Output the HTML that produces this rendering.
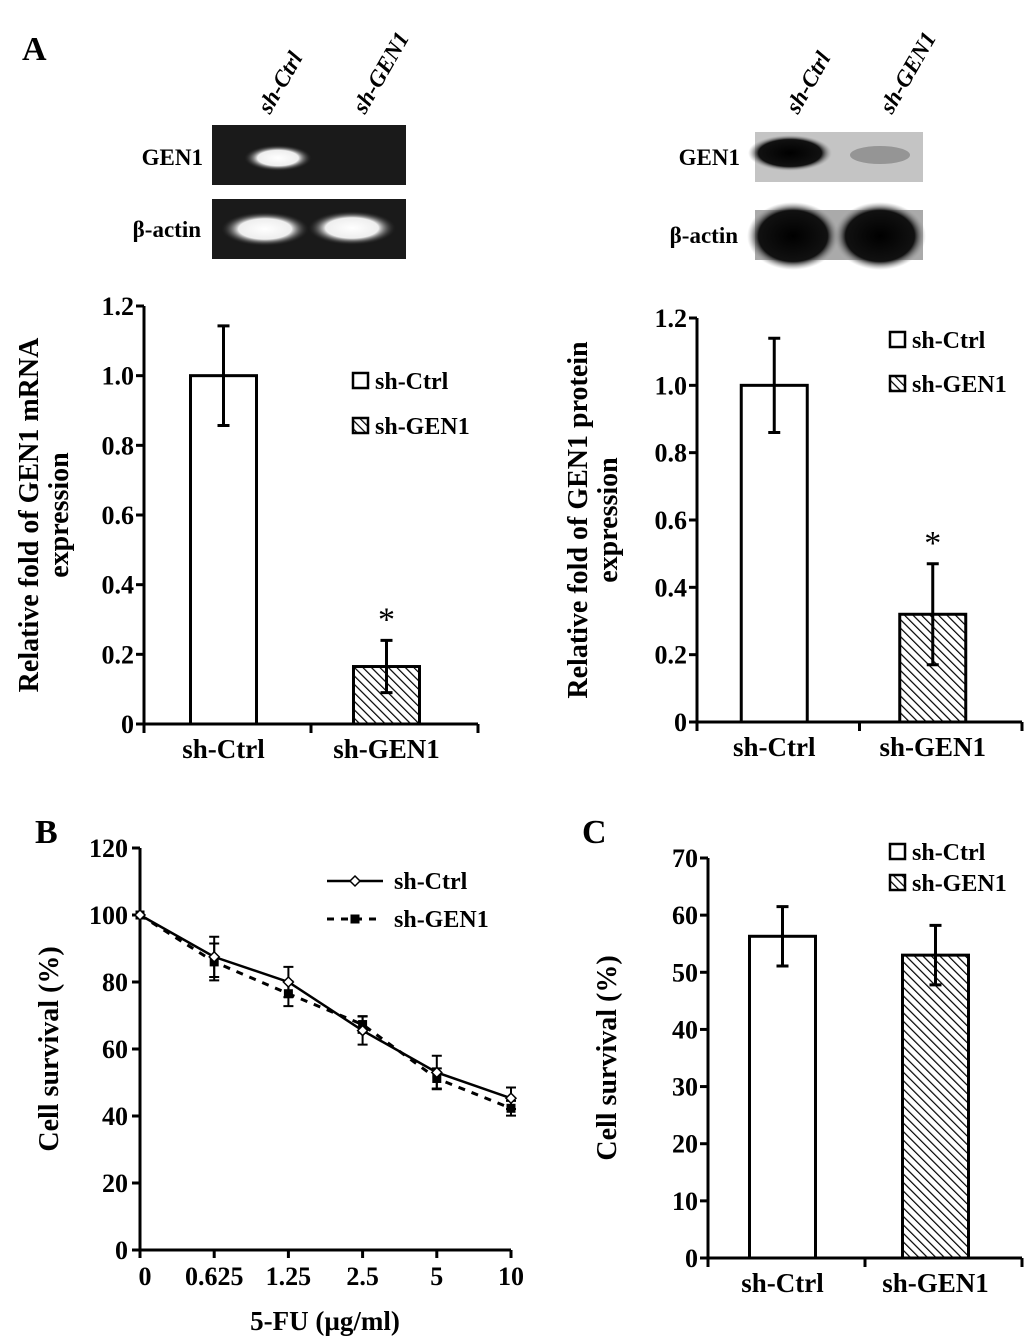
<!DOCTYPE html>
<html><head><meta charset="utf-8"><style>
body{margin:0;background:#fff}
svg{display:block;font-family:"Liberation Serif",serif;font-weight:bold}
</style></head><body>
<svg id="fig" width="1033" height="1341" viewBox="0 0 1033 1341">
<defs>
<pattern id="hatch" width="6" height="6" patternUnits="userSpaceOnUse" patternTransform="rotate(-45)">
<rect width="6" height="6" fill="#fff"/><line x1="0" y1="0" x2="0" y2="6" stroke="#000" stroke-width="2.4"/></pattern>
<radialGradient id="glow" cx="50%" cy="50%" r="50%"><stop offset="0" stop-color="#fff"/><stop offset="0.6" stop-color="#eee"/><stop offset="1" stop-color="#222" stop-opacity="0"/></radialGradient>
<radialGradient id="dark" cx="50%" cy="50%" r="50%"><stop offset="0" stop-color="#000"/><stop offset="0.75" stop-color="#111"/><stop offset="1" stop-color="#999" stop-opacity="0"/></radialGradient>
</defs>
<text x="22" y="60" font-size="34">A</text>
<text x="35" y="843" font-size="34">B</text>
<text x="582" y="843" font-size="34">C</text>
<g>
<text transform="translate(270,115) rotate(-60)" font-size="23" font-style="italic">sh-Ctrl</text>
<text transform="translate(365,115) rotate(-60)" font-size="23" font-style="italic">sh-GEN1</text>
<text x="203" y="165" font-size="23" text-anchor="end">GEN1</text>
<text x="201" y="237" font-size="23" text-anchor="end">β-actin</text>
<rect x="212" y="125" width="194" height="60" fill="#1a1a1a"/>
<ellipse cx="278" cy="158" rx="34" ry="13" fill="url(#glow)"/>
<rect x="212" y="199" width="194" height="60" fill="#1a1a1a"/>
<ellipse cx="265" cy="229" rx="44" ry="17" fill="url(#glow)"/>
<ellipse cx="352" cy="228" rx="44" ry="17" fill="url(#glow)"/>
</g>
<g>
<text transform="translate(798,115) rotate(-60)" font-size="23" font-style="italic">sh-Ctrl</text>
<text transform="translate(892,115) rotate(-60)" font-size="23" font-style="italic">sh-GEN1</text>
<text x="740" y="165" font-size="23" text-anchor="end">GEN1</text>
<text x="738" y="243" font-size="23" text-anchor="end">β-actin</text>
<rect x="755" y="132" width="168" height="50" fill="#c4c4c4"/>
<ellipse cx="790" cy="153" rx="42" ry="18" fill="url(#dark)"/>
<ellipse cx="880" cy="155" rx="30" ry="9" fill="#666" opacity="0.5"/>
<rect x="755" y="210" width="168" height="50" fill="#aaa"/>
<ellipse cx="793" cy="236" rx="46" ry="34" fill="url(#dark)"/>
<ellipse cx="880" cy="236" rx="46" ry="34" fill="url(#dark)"/>
</g>
<g id="chartA1"></g>
<g id="chartA2"></g>
<g id="chartB"></g>
<g id="chartC"></g>
</svg>
<script>
const barCategories = ["sh-Ctrl", "sh-GEN1"];
const mrnaValues = [1.0, 0.165];
const mrnaErrors = [0.143, 0.075];
const proteinValues = [1.0, 0.32];
const proteinErrors = [0.14, 0.15];
const survivalBarValues = [56.3, 53.0];
const survivalBarErrors = [5.2, 5.2];
const ticksA = [0, 0.2, 0.4, 0.6, 0.8, 1.0, 1.2];
const tickLabelsA = ["0", "0.2", "0.4", "0.6", "0.8", "1.0", "1.2"];
const ticksC = [0, 10, 20, 30, 40, 50, 60, 70];
const doseLabels = ["0", "0.625", "1.25", "2.5", "5", "10"];
const ctrlSurvival = [100, 87.5, 80, 65.5, 53, 45.3];
const ctrlErr = [0, 6, 4.5, 4.2, 5, 3.2];
const gen1Survival = [100, 86, 76.5, 67.3, 51.2, 42.3];
const gen1Err = [0, 5.5, 3.7, 2.5, 3, 2.2];
const ticksB = [0, 20, 40, 60, 80, 100, 120];

const NS = "http://www.w3.org/2000/svg";
function mk(parent, tag, attrs, text) {
  const e = document.createElementNS(NS, tag);
  for (const k in attrs) e.setAttribute(k, attrs[k]);
  if (text !== undefined) e.textContent = text;
  parent.appendChild(e);
  return e;
}

function barChart(g, o) {
  const y = v => o.y0 - (v - o.min) / (o.max - o.min) * (o.y0 - o.yTop);
  const ax = mk(g, "path", {d: `M${o.ax},${o.yTop} V${o.y0} H${o.xEnd}`, stroke: "#000", "stroke-width": 3, fill: "none"});
  
  
  o.ticks.forEach((t, i) => {
    mk(g, "line", {x1: o.ax - 8, x2: o.ax, y1: y(t), y2: y(t), stroke: "#000", "stroke-width": 3});
    const tl = mk(g, "text", {x: o.ax - 10, y: y(t) + 9, "font-size": 26, "text-anchor": "end"}, o.tickLabels[i]);
    
    
  });
  const mid = (o.ax + o.xEnd) / 2;
  [o.ax, mid, o.xEnd].forEach(x => mk(g, "line", {x1: x, x2: x, y1: o.y0, y2: o.y0 + 9, stroke: "#000", "stroke-width": 3}));
  const slot = (o.xEnd - o.ax) / o.values.length;
  o.values.forEach((v, i) => {
    const cx = o.ax + slot * (i + 0.5) + (i === 0 ? -4 : -8);
    const b = mk(g, "rect", {x: cx - o.bw / 2, y: y(v), width: o.bw, height: o.y0 - y(v), fill: i ? "url(#hatch)" : "#fff", stroke: "#000", "stroke-width": 3});
    
    
    const e = o.errs[i];
    mk(g, "path", {d: `M${cx},${y(v - e)} V${y(v + e)} M${cx - 6},${y(v + e)} h12 M${cx - 6},${y(v - e)} h12`, stroke: "#000", "stroke-width": 3, fill: "none"});
    const cl = mk(g, "text", {x: cx, y: o.y0 + 34, "font-size": 27, "text-anchor": "middle"}, o.cats[i]);
    
    
    if (o.star && i === 1) {
      const s = mk(g, "text", {x: cx, y: y(v + e) - 10, "font-size": 34, "font-weight": "normal", "text-anchor": "middle"}, "*");
      
      
    }
  });
  o.cats.forEach((c, i) => {
    const ly = o.legY + i * o.legGap;
    mk(g, "rect", {x: o.legX, y: ly - 16, width: 15, height: 15, fill: i ? "url(#hatch)" : "#fff", stroke: "#000", "stroke-width": 2.5});
    const lt = mk(g, "text", {x: o.legX + 22, y: ly, "font-size": 24}, c);
    
    
  });
  o.title.forEach((l, i) => {
    const t = mk(g, "text", {transform: `translate(${o.titleX + i * 30},${(o.yTop + o.y0) / 2}) rotate(-90)`, "font-size": 28, "text-anchor": "middle"}, l);
    
    
  });
}

barChart(document.getElementById("chartA1"), {ax: 144, y0: 724, yTop: 306, xEnd: 478, min: 0, max: 1.2, ticks: ticksA, tickLabels: tickLabelsA,
  values: mrnaValues, errs: mrnaErrors, cats: barCategories, bw: 66, star: true, legX: 353, legY: 389, legGap: 45,
  title: ["Relative fold of GEN1 mRNA", "expression"], titleX: 38});
barChart(document.getElementById("chartA2"), {ax: 697, y0: 722, yTop: 318, xEnd: 1022, min: 0, max: 1.2, ticks: ticksA, tickLabels: tickLabelsA,
  values: proteinValues, errs: proteinErrors, cats: barCategories, bw: 66, star: true, legX: 890, legY: 348, legGap: 44,
  title: ["Relative fold of GEN1 protein", "expression"], titleX: 587});
barChart(document.getElementById("chartC"), {ax: 708, y0: 1258, yTop: 858, xEnd: 1022, min: 0, max: 70, ticks: ticksC, tickLabels: ticksC.map(String),
  values: survivalBarValues, errs: survivalBarErrors, cats: barCategories, bw: 66, star: false, legX: 890, legY: 860, legGap: 31,
  title: ["Cell survival (%)"], titleX: 616});

(function () {
  const g = document.getElementById("chartB");
  const ax = 140, y0 = 1250, yTop = 848, xEnd = 511;
  const y = v => y0 - v / 120 * (y0 - yTop);
  const x = i => ax + i * (xEnd - ax) / (doseLabels.length - 1);
  const a = mk(g, "path", {d: `M${ax},${yTop} V${y0} H${xEnd}`, stroke: "#000", "stroke-width": 3, fill: "none"});
  
  
  ticksB.forEach(t => {
    mk(g, "line", {x1: ax - 8, x2: ax, y1: y(t), y2: y(t), stroke: "#000", "stroke-width": 3});
    const tl = mk(g, "text", {x: ax - 12, y: y(t) + 9, "font-size": 26, "text-anchor": "end"}, String(t));
    
    
  });
  doseLabels.forEach((d, i) => {
    mk(g, "line", {x1: x(i), x2: x(i), y1: y0, y2: y0 + 8, stroke: "#000", "stroke-width": 3});
    const tl = mk(g, "text", {x: x(i) + (i === 0 ? 5 : 0), y: y0 + 35, "font-size": 26, "text-anchor": "middle"}, d);
    
    
  });
  const xt = mk(g, "text", {x: 325, y: 1330, "font-size": 27, "text-anchor": "middle"}, "5-FU (µg/ml)");
  
  
  const yt = mk(g, "text", {transform: `translate(58,1049) rotate(-90)`, "font-size": 28, "text-anchor": "middle"}, "Cell survival (%)");
  
  
  function series(vals, errs, dash, name) {
    const l = mk(g, "polyline", {points: vals.map((v, i) => `${x(i)},${y(v)}`).join(" "), fill: "none", stroke: "#000", "stroke-width": dash ? 3 : 2.5, "stroke-dasharray": dash ? "7 7" : "none"});
    
    
    vals.forEach((v, i) => {
      const e = errs[i];
      if (e > 0) mk(g, "path", {d: `M${x(i)},${y(v - e)} V${y(v + e)} M${x(i) - 5},${y(v + e)} h10 M${x(i) - 5},${y(v - e)} h10`, stroke: "#000", "stroke-width": 2, fill: "none"});
      let m;
      if (dash) m = mk(g, "rect", {x: x(i) - 4.5, y: y(v) - 4.5, width: 9, height: 9, fill: "#000"});
      else m = mk(g, "path", {d: `M${x(i)},${y(v) - 5} l5,5 l-5,5 l-5,-5 z`, fill: "#fff", stroke: "#000", "stroke-width": 1.5});
      
      
    });
  }
  series(gen1Survival, gen1Err, true, "sh-gen1");
  series(ctrlSurvival, ctrlErr, false, "sh-ctrl");
  mk(g, "line", {x1: 327, x2: 383, y1: 881, y2: 881, stroke: "#000", "stroke-width": 2.5});
  mk(g, "path", {d: "M355,876 l5,5 l-5,5 l-5,-5 z", fill: "#fff", stroke: "#000", "stroke-width": 1.5});
  const l1 = mk(g, "text", {x: 394, y: 889, "font-size": 24}, "sh-Ctrl");
  
  
  mk(g, "line", {x1: 327, x2: 383, y1: 919, y2: 919, stroke: "#000", "stroke-width": 3, "stroke-dasharray": "7 7"});
  mk(g, "rect", {x: 350.5, y: 914.5, width: 9, height: 9, fill: "#000"});
  const l2 = mk(g, "text", {x: 394, y: 927, "font-size": 24}, "sh-GEN1");
  
  
})();
</script>
</body></html>
